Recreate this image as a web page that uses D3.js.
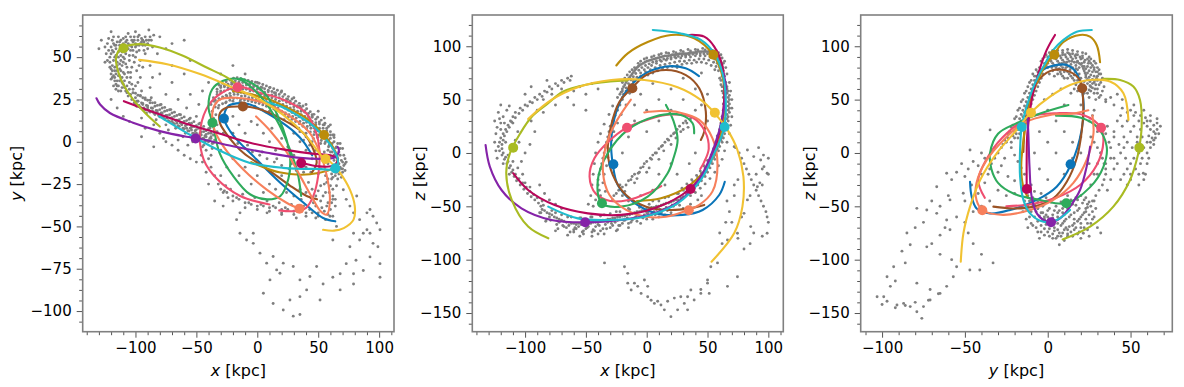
<!DOCTYPE html>
<html>
<head>
<meta charset="utf-8">
<script src="https://cdn.jsdelivr.net/npm/d3@7"></script>
<style>
  body { margin: 0; background: #fff; }
</style>
</head>
<body>
<script>
// ---- orbit styling order: blue, brown, gold, pink, green, coral, crimson, purple, cyan, yellowgreen, yellow
const orbitNames = ["blue", "brown", "gold", "pink", "green", "coral", "crimson", "purple", "cyan", "yellowgreen", "yellow"];
const orbitColors = ["#0a74b8", "#9a5325", "#bb8c0a", "#ef4f70", "#2fab5c", "#f7805c", "#b9075a", "#8523a8", "#20bccd", "#a9bb22", "#f1c232"];

// present-day positions (x, y, z) in kpc
const orbitNow = [
  [-27.4, 13.8, -10.5], [-11.8, 20.8, 60.6], [54.8, 4, 92], [-16.2, 32.2, 23.7],
  [-36.8, 11.2, -47.2], [34.6, -39.5, -53.7], [36, -12.6, -33.8], [-50.6, 2, -65],
  [64, -15.7, 24.4], [-109.8, 55.3, 5], [56, -10.1, 37.8]
];

// orbit tracks, x-y plane
const orbitsXY = [
  [45,-8, 38,0, 30,6, 21,11, 8,17, -6,22, -17,22.7, -24,21, -27.4,14, -22,6, -17,1.4, -0.5,-10.5, 18.6,-24, 38,-36, 54,-45, 64,-47],
  [49,-34, 40.5,-32, 27,-26, 8,-16, -11.5,-6.5, -24,3.4, -30.6,11, -30.6,17, -25,20.2, -11.5,20.8, 0,19.6, 18.6,14, 38,5, 46,-4.5, 48.7,-12.5, 45,-18],
  [-20,30, -5,28, 10,25, 25,20, 40,14, 55,4, 62,-3, 66,-10, 62,-15.5, 50,-18.5, 35,-19.5, 18,-18, 5,-15, -5,-12],
  [10,-37, -14,-32, -33,-22, -44,-10.5, -47,5, -42,19, -33,27, -16,32.4, 2,29, 21,25, 40,17, 48,6, 51,-5, 50,-20, 46,-32, 40,-39, 30,-41, 18,-40.5],
  [36,-32, 33,-18, 27,-5, 18,10, 8,22, -3,31, -15,37, -28,36, -37,31, -40,20, -36.7,11.3, -31,-6.5, -20,-20, -6,-31, 8,-34, 19,-32, 25.5,-22, 27,-10, 24,1.4, 17,15, 8,27, -3,34, -14,37.5],
  [-1,15, 10,7, 24,-6, 35,-20, 45,-33, 52,-41, 57,-43, 59.6,-34, 57,-20, 51.5,-6.5, 43,5.3, 27,15, 5,23, -17,26, -30.6,25, -36,20, -36,9, -28,-2.6, -11.5,-16.4, 7.7,-28.3, 24,-36, 35,-39.7],
  [-109.5,24, -88,18.2, -61,11.3, -33,5.3, -6,-0.6, 21,-4.5, 45,-7, 60,-8, 66,-10, 63,-14, 50,-14.5, 37,-12.5],
  [-132,25.7, -129,22, -121,17, -102,11.3, -80,6.3, -58,3, -50.4,2.2, -20,-2.6, 8,-6.5, 35,-9.5, 55,-10, 64,-9, 67,-5.5, 66,-3],
  [-80.5,15, -58,5.3, -33,-4.5, -6,-12.5, 21,-15.4, 49,-16, 64.3,-15.8, 66,-10, 62,-4, 54,3.4, 43,11, 32,16, 19,21, 5,24],
  [-80,9, -92,17, -102,25, -110,34, -114,41, -116,49, -113,54.5, -107,56.7, -96,57.7, -80,55.7, -61,50.8, -42,44, -25,38, -16,33.5],
  [-97,48.4, -74,45.8, -47,40, -20,32, 2,25, 21,16, 40,3.5, 53,-8.5, 56.5,-10, 63,-14, 68,-18.4, 76,-28.3, 80,-38, 79,-46, 71,-51, 63,-52.5, 54,-52]
];

// orbit tracks, x-z plane
const orbitsXZ = [
  [43,72, 32,79.4, 15.8,81, -3.3,73, -17,57.5, -25,38.7, -29.2,10.6, -27.9,-10.5, -23.8,-30, -11.5,-45.6, 7.7,-56.6, 29.5,-58, 46,-53.4, 59.6,-39.4, 64.2,-27],
  [44.5,12.2, 47.3,20, 48.6,38.7, 43.2,60.6, 32.2,73, 15.8,77.8, -0.5,73, -12.5,60.6, -22.4,48, -29.2,26, -32,1.2, -27.9,-20.6, -17,-39.4, -0.5,-50.3, 18.6,-53.4, 35,-51.9, 47.3,-48.7],
  [-25,82, -15.6,93.4, 0.8,104, 20,110.6, 39,107.5, 54.6,92, 62.3,71.6, 63.7,40.3, 59.6,12.2, 50,-12.8, 33.6,-31.6, 11.7,-42.5, -8,-45],
  [12,-31, 0,-38, -15,-44, -30,-45, -42,-38, -47,-22, -43,-5, -32,10, -16.4,23.7, 0,31, 19,36, 38,33, 48,20, 51,4, 47,-9, 44,-15],
  [15.8,45, 22,30, 25.4,12.2, 22,-5, 17.2,-19, 0.8,-41, -21,-50.3, -36.9,-47.2, -40.2,-25.3, -32,-0.3, -15.6,21.6, 6.3,34, 28.1,35.6, 37.7,27.8, 39,18.4],
  [-13,50, -25,29.4, -33.3,7.5, -36,-17.5, -30.6,-39.4, -16.9,-53.4, -0.5,-59.7, 15.8,-59.7, 34.2,-53.4, 43.2,-48.7, 54.1,-36, 58.2,-11.2, 54.1,13.7, 43.2,31, 26.8,38, 10.4,39.4, -2,38],
  [-109.8,-19, -97.5,-34.7, -75.7,-48.8, -48.4,-56.6, -21,-58, 6.3,-51.9, 35.5,-33.7, 50,-12.8, 59.6,18.4, 63.7,49.7, 62.3,81, 55.5,99.7, 47.3,109, 35,110.6],
  [-132.5,7.5, -129,-12.8, -119.4,-34.7, -103,-51.9, -78.4,-62.8, -51.1,-65, -21,-62.8, 6.3,-56.6, 28.1,-44, 44.5,-22, 55.5,5.9, 62.3,34, 65,62, 63,75],
  [-81,-50.3, -56.6,-61.3, -29.2,-62.8, -1.9,-59.7, 25.4,-47.2, 44.5,-25.3, 56.8,2.8, 63.7,24, 65,49.7, 62.3,74.7, 55.5,93.4, 44.5,106, 28.1,112, 5,115.3],
  [-80.9,-80, -97.5,-69, -111,-44, -115.5,-19, -112.5,-0.3, -104,18.4, -94.5,34, -81,46.6, -69,57.4, -50,64, -30,67, -16,68],
  [-97.5,31.9, -78.4,49.7, -56.6,61.6, -29.2,68.4, -1.9,68.4, 25.4,61.6, 44.5,49.7, 55.5,37.8, 66.4,21.6, 74.6,2.8, 79.5,-22, 78.7,-50.3, 71.9,-75.3, 53.3,-101.9]
];

// orbit tracks, y-z plane
const orbitsYZ = [
  [-4,77, 1.4,81, 11.5,82.5, 17.5,74.7, 21.5,50, 20.5,21.6, 14.1,-10.6, 5.4,-31.6, -6.6,-44, -22.7,-53.4, -34.8,-56.6, -42.9,-52, -45.9,-41, -46.9,-27],
  [-14.7,1, -13.7,26, -10.7,51, -4.6,70, 3.4,77.8, 13.5,76, 19.5,68, 20.7,60.6, 21.5,42, 20.5,20, 17.5,-5, 11.5,-27, 3.4,-42.5, -8.6,-50.3, -20.7,-52, -32.8,-50.3],
  [31.6,85, 29.6,101, 25.5,109, 19.5,110.6, 9.5,104, 3.8,92.5, -2.6,79, -8.6,57.5, -12.7,32.5, -15,7.5, -16,-12, -15,-30, -12,-42],
  [-38,-42, -41.9,-25.3, -34.8,-0.3, -24.7,18.4, -10.7,34, 5.4,37.2, 21.5,35.6, 32,23.7, 33.6,10.6, 29.6,-11.2, 19.5,-30, 5,-42, -10,-48, -25,-50],
  [12.5,45, -4.6,37, -18.7,28, -30,18, -34.8,0, -34,-15, -30,-28, -20.7,-38, -4.6,-44, 11,-47.2, 25.6,-32, 33.6,-13, 35.6,6, 30,24, 20,33, 5,35],
  [24.5,40, 15.5,37, 1.4,35.6, -14.7,28, -26.8,12, -36.8,-6.6, -43,-28, -43,-44, -39.2,-53.7, -27,-58, -10.7,-53.4, 3.4,-44, 15.5,-28, 23.5,-6.6, 27.6,18, 27,35],
  [4.4,110.6, -0.6,96.6, -5.6,74.7, -9.7,49.7, -12.3,18.4, -12.7,-6.6, -12.7,-33.7],
  [-12.3,37.2, -11.7,18.4, -11,-12.8, -9.7,-41, -6.6,-56.6, -2.6,-62.8, 1.8,-65, 7.4,-61.3, 13.5,-50.3, 19.5,-34.7, 23.5,-12.8, 25.6,5.9],
  [26.6,115.3, 17.5,113.7, 9.5,106, 3.4,96.6, -2.6,81, -8.6,62, -12.7,43.4, -15.7,24.7, -16.7,2.8, -16.7,-22, -14.7,-44, -10.7,-56.6, -2.6,-64.4, 5.4,-62.8, 13.5,-53.4],
  [9,-81, 25.6,-69, 39.6,-50.3, 49.7,-25.3, 54.7,-0.3, 55.3,5, 56.7,24.7, 55.7,49.7, 51.7,62.2, 43.7,68.4, 33.6,69.4],
  [-52.5,-101.9, -50.9,-75.3, -46.9,-50.3, -40.8,-25.3, -30.8,-0.3, -18.7,21.6, -10.3,37.8, 1.4,52.8, 13.5,63.7, 25.6,68.4, 37.6,66.9, 45.7,55.9, 48.7,31]
];

// stream particles, x-y plane
const streamXY = [
  // upper-left clump
  -120,52, -118,48, -117,44, -116,40, -115,36, -119,45, -121,50, -114,50, -113,46, -112,42, -111,38, -110,34, -108,30, -106,27,
  -116,55, -113,57, -110,58, -106,58, -102,59, -98,60, -95,61, -92,62, -100,56, -104,54, -108,52, -111,53, -105,48, -107,44,
  -109,40, -103,44, -100,50, -97,54, -94,57, -90,58, -87,60, -85,63, -92,52, -96,48, -123,58, -118,62, -106,64, -100,65,
  -89,66, -80,62, -75,55, -70,58, -82,52, -125,47, -114,33, -112,30, -104,38, -99,42, -120,40, -117,36, -103,34, -98,35,
  -88,45, -86,38, -118,53, -115,47, -113,43, -119,42, -116,51, -110,47, -108,55, -104,57, -96,58, -93,59, -109,36, -107,33,
  -111,45, -114,39, -117,57, -112,60, -101,62, -97,63, -130,55, -128,60, -120,65,
  -122,54, -120,56, -118,58, -115,59, -112,55, -109,56, -106,55, -103,56, -100,58, -97,57, -94,60, -91,60, -88,62, -86,56,
  -90,55, -93,54, -99,53, -102,51, -105,51, -109,49, -112,48, -115,45, -117,42, -119,38, -118,33, -116,31, -113,36, -110,41,
  -107,38, -105,35, -102,31, -100,33, -96,38, -94,44, -97,45, -101,47, -121,44, -123,48, -124,52, -125,56, -122,61, -114,62,
  -108,62, -103,60,
  -121,47, -120,43, -118,39, -116,34, -114,30, -119,54, -117,50, -115,42, -113,39, -111,35, -109,32, -107,29, -105,31,
  -104,41, -106,41, -108,46, -110,50, -112,51, -114,53, -116,57, -119,60, -113,59, -110,61, -107,60, -104,62, -101,60,
  -98,62, -95,59, -92,57, -89,60, -99,57, -102,54, -105,57, -108,59, -111,56, -120,37, -117,38, -115,33, -111,32,
  // band towards the centre
  -104,28, -100,26, -98,24, -96,27, -94,22, -92,25, -90,20, -88,23, -86,18, -84,21, -82,17, -80,19, -78,15, -76,18, -74,14,
  -72,16, -70,12, -68,15, -66,11, -64,13, -62,10, -60,12, -58,8, -56,11, -54,7, -52,9, -50,5, -48,8, -46,4, -44,6, -42,3,
  -40,5, -38,2, -36,4, -99,21, -91,17, -83,13, -75,10, -67,8, -59,5, -51,2, -43,0, -95,30, -87,26, -79,22, -71,19, -63,16,
  -55,14, -47,11, -39,8, -61,3, -53,0, -45,-3, -37,-4, -73,7, -85,10, -95,14, -57,-2, -65,1, -77,2,
  -102,29, -98,27.5, -94,26, -90,24.5, -86,23, -82,21.5, -78,20, -74,18.5, -70,17, -66,15.5, -62,14, -58,12.5, -54,11,
  -50,9.5, -46,8, -42,6.5, -38,5, -101,23, -97,21.5, -93,20, -89,18.5, -85,17, -81,15.5, -77,14, -73,12.5, -69,11,
  -65,9.5, -61,8, -57,6.5, -53,5, -49,3.5, -45,2, -41,0.5, -37,-1,
  -103,25, -99,24, -95,23, -91,21.5, -87,20, -83,18.5, -79,17, -75,15.5, -71,14, -67,12.5, -63,11, -59,9.5, -55,8,
  -51,6.5, -47,5, -43,3.5, -39,2, -35,1,
  -100,21.7, -96,20.3, -92,18.9, -88,17.5, -84,16.1, -80,14.7, -76,13.3, -72,11.9, -68,10.5, -64,9.1, -60,7.7, -56,6.3,
  -52,4.9, -48,3.5, -44,2.1, -40,0.7, -36,-0.7, -98,24, -94,22.6, -90,21.2, -86,19.8, -82,18.4, -78,17, -74,15.6,
  -70,14.2, -66,12.8, -62,11.4, -58,10, -54,8.6, -50,7.2, -46,5.8, -42,4.4, -38,3, -100,28.7, -96,27.3, -92,25.9,
  -88,24.5, -84,23.1, -80,21.7, -76,20.3, -72,18.9, -68,17.5, -64,16.1, -60,14.7, -56,13.3, -52,11.9, -48,10.5, -44,9.1,
  -40,7.7,
  -115,20, -105,12, -92,8, -80,5, -70,-2, -60,-8, -50,-12, -120,25, -110,15, -95,3, -85,-3, -75,0, -65,-5, -55,-10,
  -70,35, -60,40, -55,28, -48,22, -50,15, -60,60, -55,48, -70,45, -80,40, -75,28, -88,32, -65,25, -58,20,
  // upper side of the ring
  -36,26, -33,28, -30,29, -27,30, -24,31, -21,31, -18,32, -15,32, -12,31, -9,31, -6,30, -3,30, 0,29, 3,28, 6,27, 9,27,
  12,26, 15,25, 18,24, 21,22, 24,21, 27,20, 30,19, 33,18, 36,16, 39,15, 42,13, 45,12, 48,10, 51,8, 54,6, 57,4, 60,2, 63,0,
  65,-3, 67,-6, -34,23, -31,25, -28,26, -25,27, -22,27, -19,28, -16,28, -13,27, -10,27, -7,26, -4,26, -1,25, 2,24, 5,23,
  8,23, 11,22, 14,21, 17,20, 20,18, 23,17, 26,16, 29,15, 32,14, 35,12, 38,11, 41,9, 44,8, 47,6, 50,4, 53,3, 56,0, 59,-2,
  62,-4, 64,-7, 66,-10, -32,20, -26,23, -20,24, -14,24, -8,22, -2,21, 4,19, 10,18, 16,16, 22,13, 28,11, 34,8, 40,5, 46,2,
  52,-1, 58,-5, 63,-11, 67,-13, -30,33, -20,35, -8,34, 4,32, 14,29, 25,25, 35,21, 45,16, 55,10, 62,4,
  -34.5,24.5, -31.5,25.5, -28.5,26.5, -25.5,27.5, -22.5,28.5, -19.5,29.5, -16.5,29.8, -13.5,29.2, -10.5,28.7, -7.5,28.2,
  -4.5,27.7, -1.5,27.2, 1.5,26.6, 4.5,25.8, 7.5,25, 10.5,24.2, 13.5,23.3, 16.5,22.4, 19.5,21.3, 22.5,20, 25.5,18.7,
  28.5,17.3, 31.5,16, 34.5,14.7, 37.5,13.2, 40.5,11.5, 43.5,9.8, 46.5,8.2, 49.5,6.5, 52.5,4.8, 55.5,3, 58.5,1, 61.5,-1,
  64.5,-3.5, -34.5,20.5, -31.5,21.5, -28.5,22.5, -25.5,23.5, -22.5,24.5, -19.5,25.5, -16.5,25.8, -13.5,25.2, -10.5,24.7,
  -7.5,24.2, -4.5,23.7, -1.5,23.2, 1.5,22.6, 4.5,21.8, 7.5,21, 10.5,20.2, 13.5,19.3, 16.5,18.4, 19.5,17.3, 22.5,16,
  25.5,14.7, 28.5,13.3, 31.5,12, 34.5,10.7, 37.5,9.2, 40.5,7.5, 43.5,5.8, 46.5,4.2, 49.5,2.5, 52.5,0.8, 55.5,-1, 58.5,-3,
  61.5,-6, 64.5,-9, -33,29.5, -27,32.5, -21,34, -15,34.5, -9,33.5, -3,32.5, 3,30.5, 9,29.5, 15,27.5, 21,24.5, 27,22.5,
  33,20.5, 39,17.5, 45,14.5, 51,10.5, 57,6.5, 63,2.5, 35,6, 40,3, 45,0, 50,-3, 55,-6, 60,-9, 38,1, 43,-2, 48,-5, 53,-8,
  58,-11, 63,-14, 65,-18, 61,-22, 57,-24, 66,-22, -37,18, -36,14, -34,16, -35,10, -33,6, -38,22, -36,24,
  -33,31, -30,32, -27,33, -24,34, -21,35, -18,36, -15,35.5, -12,35, -9,34.5, -6,34, -3,33.5, 0,33, 3,32.2, 6,31.3, 9,30.5,
  12,29.7, 15,28.8, 18,28, 21,26.7, 24,25.3, 27,24, 30,22.7, 33,21.3, 36,20, 39,18.3, 42,16.7, 45,15, 48,13.3, 51,11.7,
  54,10, 57,8, 60,6, 63,4,
  -31.5,33.5, -28.5,34.5, -25.5,35.5, -22.5,36.5, -19.5,37.5, -16.5,37.8, -13.5,37.2, -10.5,36.7, -7.5,36.2, -4.5,35.7,
  -1.5,35.2, 1.5,34.6, 4.5,33.8, 7.5,33, 10.5,32.1, 13.5,31.3, 16.5,30.4, 19.5,29.3, 22.5,28, 25.5,26.7, 28.5,25.3,
  31.5,24, 34.5,22.7, 37.5,21.1, 40.5,19.5, 43.5,17.8, 46.5,16.2, 49.5,14.5, 52.5,12.8, 55.5,11, 58.5,9,
  -30,30, -24,32, -18,34, -12,33, -6,32, 0,31, 6,29.3, 12,27.7, 18,26, 24,23.3, 30,20.7, 36,18, 42,14.7, 48,11.3, 54,8, 60,4,
  // right end
  68,-8, 70,-12, 69,-16, 67,-19, 64,-20, 61,-19, 70,-18, 71,-14, 72,-10, 66,-16, 62,-15, 58,-13, 69,-21, 70,-4, 68,-1,
  66,-13, 68,-15, 70,-16, 72,-13, 71,-8, 69,-11, 67,-17, 64,-18, 62,-21, 72,-17, 73,-12, 68,-4, 66,-1, 63,-8, 60,-6,
  // lower side of the ring
  56,-20, 50,-19, 44,-18, 38,-18, 32,-17, 26,-16, 20,-14, 14,-12, 8,-10, 2,-8, -4,-6, -10,-4, -16,-1, -22,2, -28,5, -33,10,
  52,-16, 40,-15, 28,-13, 16,-10, 4,-6, -8,-2, -20,5, -30,14,
  // lower band
  -30,-28, -25,-30, -20,-32, -15,-34, -10,-36, -5,-37, 0,-38, 5,-38, 10,-39, 15,-39, 20,-40, 25,-40, 30,-41, 35,-41, 40,-42,
  45,-42, 50,-42, 55,-41, 60,-40, -22,-28, -12,-31, -2,-33, 8,-35, 18,-36, 28,-37, 38,-38, 48,-38, 58,-36, 42,-24, 45,-28,
  48,-32, 52,-35, 56,-30, 60,-26, 62,-32, 64,-38, 58,-22, 52,-26, 44,-33, 50,-29, 40,-30, 36,-34, 30,-32, 24,-30, 62,-44,
  56,-46, 48,-45, 32,-45, 20,-43, 8,-42,
  -27,-29, -17,-33, -7,-36, 3,-37, 13,-38, 23,-39, 33,-39, 43,-40, 53,-39, 57,-38, 61,-36, -20,-35, -10,-39, 0,-40, 10,-41,
  20,-42, 30,-43, 40,-44, 50,-44, 58,-43, 46,-36, 54,-32, 62,-28, 59,-30, 64,-34, 55,-25,
  // interior and left of ring
  0,10, 5,5, 10,0, 15,-5, 20,2, 25,-3, 30,5, 35,0, 12,8, -5,12, -10,5, -15,10, -20,15, -25,12, 40,-5, 45,-10, 30,-8,
  20,-20, 10,-25, 0,-20, -10,-15, -20,-10, 35,-28, 25,-25, 15,-28, 5,-30, -5,-25, -15,-20, -25,-15, -30,-5, -38,-8,
  -42,-18, -40,-25, -35,-35, -28,-38, -45,-12, -40,0, -42,-5, -40,-10, -38,-15, -35,-20, -32,-25, -28,-30, -24,-33,
  -44,-2, -46,-8, -30,-20, -26,-26,
  -30,40, -40,35, -45,30, -20,45, -10,40, 0,35, 10,32, 20,30, 30,26, 40,22, 50,18, 55,14, 60,10,
  // trailing debris
  65,-26, 73,-34, 79,-42, 84,-46, 90,-42, 92.5,-40, 95,-44, 98,-48, 100.7,-52, 99,-62, 100.7,-72, 100.7,-80, 92.5,-68,
  87,-76, 79,-84, 68,-87.5, 62,-80, 54,-84, 51.5,-93.5, 40.5,-87.5, 35,-81.6, 29.5,-73.7, 21.3,-71.7, 15.9,-75.7,
  10.4,-81.6, 5,-89.5, 13,-95.5, 21.3,-99.4, 29.5,-103, 35,-102, 26.8,-93.5, 35,-91.5, 43.2,-79.6, 48.7,-73.7,
  -14.2,-54, -8.8,-58, -3.3,-60, 2.2,-65.8, 7.7,-71.7, 13,-67.8, 18.6,-77.7, -3.3,-54, -17,-46, -14.2,-42,
  70.6,-28.3, 76,-38, 81.6,-32, 79,-54, 84,-58, 76,-62, 87,-54, 92.5,-54, 95,-60, 73,-72, 81,-70, 68,-78, 79,-78,
  90,-52, 62,-34, 59.7,-44, 65,-50, 62,-58
];

// stream particles, x-z plane
const streamXZ = [
  // upper arc
  -22,55, -20,60, -18,64, -16,68, -14,71, -12,74, -10,77, -8,80, -6,82, -3,84, 0,86, 3,87, 6,88, 9,89, 12,90, 15,91, 18,91,
  21,92, 24,92, 27,93, 30,93, 33,93, 36,94, 39,94, 42,95, 45,95, 48,95, 51,95, 54,94, 57,92, 59,89, 61,85, 62,81, 63,77,
  -20,52, -17,58, -14,63, -11,67, -8,71, -5,75, -2,78, 1,80, 4,82, 8,84, 12,86, 16,87, 20,88, 24,89, 28,89, 32,90, 36,90,
  40,91, 44,91, 48,91, 52,90, 56,88, 58,84, 60,80, -24,60, -20,66, -16,73, -12,78, -7,84, -2,88, 4,90, 10,92, 16,94, 22,95,
  28,96, 34,97, 40,97, 46,98, 52,97, 57,96, 61,92, 64,86, 65,80,
  -21,57, -19,62, -17,66, -15,69.5, -13,72.5, -11,75.5, -9,78.5, -7,81, -4.5,83, -1.5,85, 1.5,86.5, 4.5,87.5, 7.5,88.5,
  10.5,89.5, 13.5,90.5, 16.5,91, 19.5,91.5, 22.5,92, 25.5,92.5, 28.5,93, 31.5,93, 34.5,93.5, 37.5,94, 40.5,94.5, 43.5,95,
  46.5,95, 49.5,95, 52.5,94.5, 55.5,93, 58,90.5, 60,87, 61.5,83, 62.5,79,
  -19,55, -17,61, -15,65, -13,68.5, -11,71.5, -9,74.5, -6.5,77.5, -4,80, -1,82, 2,83.5, 5,85, 8,86, 11,87, 14,88, 17,88.5,
  20,89.5, 23,90, 26,90.5, 29,91, 32,91.5, 35,92, 38,92.5, 41,93, 44,93, 47,93, 50,93, 53,92, 56,90.5, 58.5,87, 60,83.5,
  61,79, -18,70, -14,76, -10,80, -5,86, 0,89, 6,91, 12,93, 18,93.5, 24,94, 30,95, 36,95.5, 42,96.5, 48,96.5, 54,96, 59,94,
  62,89, 63,84,
  -5,72, -1,76, 3,78, 7,80, 11,82, 15,83, 19,84, 23,85, 27,86, 31,86, 35,87, 39,87, 43,88, 47,88, 51,87, 55,85, 57,81, 59,77,
  1,73, 5,75, 9,77, 13,79, 17,80, 21,81, 25,82, 29,83, 33,84, 37,84, 41,85, 45,85, 49,84, 53,82, 56,78,
  // right side
  62,72, 64,68, 65,64, 66,60, 66,56, 67,52, 67,48, 67,44, 67,40, 66,36, 66,32, 65,28, 64,24, 63,20, 62,16, 61,12, 59,8,
  58,4, 56,0, 55,-4, 53,-8, 51,-12, 49,-16, 47,-20, 44,-24, 41,-28, 38,-31, 35,-34, 32,-37, 60,70, 61,64, 62,58, 63,52,
  63,46, 63,40, 62,34, 61,28, 60,22, 58,16, 57,10, 55,4, 53,-2, 50,-7, 47,-12, 44,-17, 41,-21, 37,-25, 33,-29, 29,-33,
  66,74, 68,66, 69,58, 70,50, 70,42, 70,34, 69,26, 68,18, 66,10, 64,2, 62,-6, 59,-12, 56,-18, 52,-24, 48,-29, 44,-33,
  40,-37, 36,-40,
  64,72, 65,66, 66,62, 67,58, 68,54, 68,50, 68,46, 68,42, 68,38, 67,34, 67,30, 66,26, 65,22, 64,18, 63,14, 62,10, 60,6,
  59,2, 57,-2, 56,-6, 54,-10, 52,-14, 50,-18, 48,-22, 45,-26, 42,-30, 39,-33, 36,-36, 33,-39, 30,-41,
  61,68, 62,62, 63,56, 64,50, 64,44, 64,38, 64,32, 63,26, 62,20, 61,14, 59,10, 58,6, 56,2, 54,-4, 51,-9, 48,-14, 45,-19,
  42,-23, 38,-27, 34,-32, 30,-35,
  // lower band
  28,-42, 24,-44, 20,-46, 16,-47, 12,-49, 8,-50, 4,-51, 0,-53, -4,-54, -8,-55, -12,-57, -16,-58, -20,-59, -24,-60, -28,-61,
  -32,-62, -36,-63, -40,-64, -44,-65, -48,-65, -52,-66, -56,-66, -60,-66, -64,-65, -68,-64, -72,-62, -76,-60, -80,-57,
  -84,-54, -87,-50, 26,-38, 18,-41, 10,-45, 2,-48, -6,-51, -14,-53, -22,-55, -30,-57, -38,-59, -46,-60, -54,-61, -62,-60,
  -70,-58, -78,-54, 22,-50, 14,-53, 6,-55, -2,-58, -10,-61, -18,-63, -26,-65, -34,-67, -42,-69, -50,-71, -58,-71, -66,-70,
  -74,-67, -82,-62, -88,-56, -45,-74, -30,-70, -15,-66, 0,-62, 10,-60, 20,-56, 30,-52, 36,-48, 42,-44, 45,-40,
  -38,-73, -22,-68, -52,-76, -60,-74, -8,-64,
  26,-44, 22,-45, 18,-47, 14,-48, 10,-50, 6,-51, 2,-52, -2,-54, -6,-55, -10,-56, -14,-58, -18,-59, -22,-60, -26,-61,
  -30,-62, -34,-63, -38,-64, -42,-65, -46,-66, -50,-67, -54,-67, -58,-67, -62,-66, -66,-65, -70,-63, -74,-61, -78,-58,
  -82,-56, 24,-48, 16,-51, 8,-53, 0,-56, -8,-58, -16,-61, -24,-63, -32,-65, -40,-67, -48,-69, -56,-69, -64,-68, -72,-65,
  -80,-60, -86,-53, -36,-71, -44,-72, -28,-68, -20,-66, -12,-63, -4,-60, 4,-58, 12,-56, -52,-73, -60,-72, -68,-69,
  -40,-76, -24,-72,
  27,-49, 17,-54, 7,-58, -3,-61, -13,-65, -23,-68, -33,-71, -43,-73, -53,-74, -63,-74, -73,-71, -83,-64,
  25,-38, 15,-42, 5,-45, -5,-49, -15,-52, -25,-55, -35,-58, -45,-60, -55,-61, -65,-60, -75,-56, -85,-49,
  21,-49, 11,-53, 1,-56, -9,-60, -19,-63, -29,-66, -39,-68, -49,-70, -59,-70, -69,-68, -79,-63, -87,-56,
  15,-58, 5,-62, -5,-66, -15,-70, -25,-73, -35,-76, -45,-78, -55,-78, -65,-77, -75,-73,
  // left band
  -18,55, -20,50, -22,45, -24,40, -26,35, -28,30, -30,25, -31,20, -32,15, -33,10, -34,5, -35,0, -36,-5, -37,-10, -38,-15,
  -39,-20, -40,-25, -40,-30, -39,-35, -38,-40, -36,-45, -14,56, -17,45, -21,36, -24,28, -27,20, -29,12, -30,4, -32,-4,
  -33,-12, -35,-20, -36,-28, -34,-36, -45,-30, -44,-20, -43,-10, -42,0, -40,10, -38,18, -35,27, -31,36, -28,44, -24,52,
  -20,58, -46,-40, -48,-48, -44,-50, -42,-44,
  // inner diagonal and interior
  -25,-38, -20,-32, -15,-26, -10,-20, -5,-14, 0,-8, 5,-2, 10,4, 15,10, 20,16, 25,22, 30,28, -22,-30, -12,-22, -2,-10, 8,0,
  18,12, 28,20, -18,-36, -8,-24, 2,-14, 12,6, 22,18, 32,30, 14,2, 4,-6, -6,-18, 24,14, 34,24, -28,-44,
  -27,-40, -23,-35, -17,-30, -13,-25, -7,-19, -3,-13, 3,-5, 7,0, 13,7, 17,13, 23,19, 27,25, 33,28, -20,-40, -10,-28,
  0,-18, 10,-6, 20,8, 30,22, 36,32,
  0,20, 10,30, -10,30, 20,40, 30,50, 40,60, 45,45, 50,30, 40,0, 35,-10, 25,-20, 15,-30, 5,-35, -5,-40, -15,-45, 0,40,
  10,50, 20,60, -5,55, 30,70, 45,75, 50,55, 40,40, 20,-10, 10,-20, -20,0, -15,15, -10,45, 5,65, 25,80,
  // left arc
  -62,72, -65,70, -70,68, -75,65, -80,62, -84,58, -88,55, -92,52, -96,48, -100,45, -104,42, -108,38, -110,34, -112,30,
  -114,26, -116,22, -118,18, -120,14, -121,10, -122,6, -121,2, -119,-2, -117,-6, -115,-10, -113,-14, -111,-18, -109,-22,
  -107,-26, -104,-30, -101,-34, -98,-38, -95,-41, -92,-44, -89,-47, -125,30, -122,38, -118,34, -115,40, -113,44, -120,22,
  -124,18, -110,28, -106,20, -108,12, -112,6, -114,-2, -110,-8, -106,-14, -102,-20, -100,-28, -96,-32, -105,10, -100,0,
  -95,30, -90,40, -85,50, -78,55, -70,60, -100,55, -95,62, -82,68, -60,58, -55,62, -50,55, -45,65, -40,60, -65,52, -75,45,
  -85,38, -60,45, -50,40, -92,20, -96,8, -103,-8, -88,-30, -84,-38, -80,-44, -75,-48, -70,-52, -120,45, -125,10, -123,-5,
  -63,68, -68,66, -73,63, -78,60, -82,57, -86,53, -90,50, -94,47, -98,44, -102,40, -105,37, -108,33, -111,29, -113,24,
  -115,20, -117,16, -118,12, -119,8, -119,4, -118,0, -116,-4, -114,-8, -112,-12, -110,-16, -108,-20, -105,-24, -102,-28,
  -99,-32, -96,-36, -93,-39, -90,-42, -86,-45, -120,28, -123,24, -121,32, -117,28, -124,2, -118,-10, -113,-20, -116,10,
  // right debris
  71.9,5.9, 82.8,2.8, 88,-3.4, 93.7,-6.6, 96.4,-12.8, 99,-19, 91,-31.6, 82.8,-44, 80,-56.6, 85.5,-69, 99,-75.3, 74.6,-75.3,
  66.4,-81.6, 73,5, 76,0, 78,-5, 80,-10, 82,-15, 84,-20, 86,-25, 88,-30, 90,-35, 92,-40, 94,-45, 96,-50, 98,-55, 99,-60,
  100,-65, 90,-20, 95,-15, 100,-20, 93,-28, 85,-40, 78,-60, 88,-75, 95,-78, 75,-25, 72,-40, 68,-55, 70,-65, 75,-80,
  85,-85, 72,-30, 66,-45, 92,5, 96,-2, 100,-5, 95,-30, 65,-65, 60,-75, 62,-85, 80,-90,
  // lower loop
  58.2,-103, 52.7,-106.6, 74.6,-116, 66.4,-125, 50,-119, 44.5,-128, -34.7,-103, -18.3,-106.6, -15.6,-112.8, -10.1,-122,
  -4.6,-131.6, 3.6,-138, 11.7,-142.5, 19.9,-153.4, 25.4,-147, 30.9,-141, 33.6,-147, 39,-137.8, 44.5,-131.6, 50,-122,
  0.8,-134.7, 9,-139, 17.2,-139, 22.7,-136, 28,-134.7, 14.5,-147, 6.3,-141, -15.6,-122, -12.8,-128.4, -7.4,-125, 0.8,-125,
  -1.9,-119, 33.6,-134.7, 36.3,-128.4, 51.4,-131.6
];

// stream particles, y-z plane
const streamYZ = [
  // top clump
  0,90, 3,92, 6,93, 9,94, 12,94, 15,93, 18,92, 21,91, 24,88, 26,84, 28,80, 29,76, 30,72, 30,68, 31,64, 30,60,
  2,86, 5,88, 8,89, 11,90, 14,90, 17,89, 20,88, 22,85, 24,81, 25,77, 26,73, 27,69, 27,65, 27,61,
  4,82, 7,84, 10,85, 13,86, 16,85, 19,84, 21,81, 22,77, 23,73, 24,69, 24,65, 23,60, 22,56,
  6,78, 9,80, 12,81, 15,80, 18,78, 19,74, 20,70, 20,66, 19,62, 18,58, -1,82, -3,78, 1,74, 4,72, 8,74, 12,76, 14,72,
  16,68, 17,64, 16,60, 14,56, 28,56, 32,54, 33,58, 34,62, 32,66, 33,70, 31,78, 29,84, 26,88, 23,93, 18,95, 12,97, 6,96,
  1,94, -2,90, -4,86, 10,70, 25,52, 29,50, 35,50,
  1.5,88, 4.5,90, 7.5,91, 10.5,92, 13.5,92, 16.5,91, 19.5,90, 22.5,87, 24.5,84, 26,80, 27,76, 28,72, 28.5,68, 29,64,
  28.5,60, 3,84, 6,86, 9,87, 12,88, 15,88, 18,86, 20,83, 21.5,79, 22.5,75, 23,71, 22,67, 21,63, 20,59, 5,80, 8,82, 11,83,
  14,83, 17,82, 19,80, 7.5,76, 10.5,78, 13.5,78, 16.5,76, 18,72, 18,68, 17,65, 30,56, 31,52, 26,58, 32,74, 30,80, 28,86,
  25,90, 21,94, 15,96, 9,96, 3,96, -1,92, -3,88, 0,84,
  2.5,80, 5.5,82, 8.5,84, 11.5,85, 14.5,86, 17.5,85, 20.5,84, 22,81, 23,79, 24,75, 25,71, 25.5,67, 25.5,63, 25,59, 24,56,
  26,62, 28,66, 29.5,70, 31,74, 30,76, 28,78, 27,82, 25,86, 21,89, 17,92, 13,93, 9,92, 5,91, 2,89, 0,87, -2,84, 0,80,
  3,77, 6,74, 9,72, 12,70, 15,70, 16,73, 13,74, 10,76, 7,79, 11,80, 14,80, 17,79,
  // left strip
  -5,80, -6,76, -7,72, -8,68, -9,64, -10,60, -11,56, -12,52, -13,48, -14,44, -15,40, -16,36, -17,32, -18,28, -19,24,
  -20,20, -21,16, -3,74, -4,70, -5,66, -6,62, -7,58, -8,54, -9,50, -10,46, -11,42, -12,38, -13,34, -14,30, -15,26, -16,22,
  -17,18, -18,14, -9,74, -11,66, -13,58, -15,50, -17,42, -19,34, -21,26, -23,20, -24,14,
  -4,78, -5,74, -6,70, -7,66, -8,62, -9,58, -10,54, -11,50, -12,46, -13,42, -14,38, -15,34, -16,30, -17,26, -18,22,
  -19,18, -20,14, -22,10, -7,78, -8,72, -10,68, -12,62, -14,56, -16,48, -18,40, -20,32, -22,24, -24,18, -26,12, -27,8,
  // spread below the strip
  -25,10, -28,5, -30,0, -32,-5, -34,-10, -35,-15, -36,-20, -22,5, -20,-2, -18,-8, -16,-14, -14,-20, -26,-5, -28,-12,
  -30,-18, -24,-22, -20,-26, -10,-30, -15,-35, -20,-38, -25,-40, -30,-35, -38,-28, -40,-20, -42,-12, -38,-5, -32,5,
  -40,0, -45,-8, -48,-15, -50,-22, -46,-30, -52,-10, -55,-18, -58,-25, -34.8,21.6, -46.9,2.8,
  // ring interior
  0,40, 5,30, 10,20, 15,10, 20,0, 25,-10, 0,10, 5,0, -5,20, -8,0, -5,-15, 0,-25, 10,-20, 15,-5, 20,15, 25,30, 28,40,
  30,20, 32,0, 30,-20, 35,-10, 38,5, 36,25, 40,15, 10,45, 20,45, -2,50, 8,60, 3,55,
  // right side of ring
  26,15, 28,10, 30,5, 32,0, 33,-5, 34,-10, 35,-15, 35,-20, 34,-25, 33,-30, 31,-35, 29,-40, 27,-45, 30,-10, 28,-20, 26,-30,
  38,-5, 40,-15, 38,-25, 36,-35, 37,10, 35,18, 30,25, 27,35,
  // bottom clump
  -12,-40, -10,-44, -8,-48, -6,-52, -4,-56, -2,-60, 0,-64, 2,-68, 4,-70, 6,-72, -12,-50, -10,-55, -8,-60, -6,-64, -4,-68,
  -2,-71, 0,-74, 3,-76, 6,-78, 9,-75, 12,-72, 15,-68, 18,-64, 20,-60, 22,-56, 23,-52, 24,-48, 22,-44, 20,-40, 18,-44,
  15,-48, 12,-52, 9,-56, 6,-60, 3,-58, 0,-54, -3,-50, -6,-46, -9,-42, 10,-64, 13,-60, 16,-56, 19,-52, 14,-44, 8,-46,
  5,-50, 2,-46, -1,-42, -4,-38, 8,-68, 11,-70, 14,-74, 17,-70, 20,-66, 23,-62, 25,-58, 26,-50, -14,-45, -15,-55, -13,-62,
  -10,-66, -7,-70, -4,-74, 1,-78, 5,-80, 12,-78, 18,-76, 22,-70, 26,-66, 28,-60, 4,-64, 7,-54, 10,-58, -2,-62, 16,-62,
  -8,-36, 12,-40, 28,-45, 29,-52, -12,-70, 30,-70, 32,-75, 20,-80, 10,-82, -5,-80, 25,-78, 21.5,-75.3, 7,-86,
  -11,-45, -9,-50, -7,-55, -5,-59, -3,-63, -1,-67, 1,-71, 4,-73, 7,-75, 10,-72, 13,-69, 16,-66, 19,-62, 21,-58, 23,-55,
  24,-51, 25,-46, 21,-47, 17,-49, 13,-50, 9,-52, 6,-56, 3,-61, 0,-60, -3,-56, -6,-52, -8,-44, -2,-48, 4,-54, 11,-62,
  14,-58, 18,-54, 9,-66, 6,-66, 2,-64, -1,-58, 1,-52, 11,-45, 17,-42, 23,-42, 27,-55, 27,-62, 24,-66, 20,-70, 16,-72,
  12,-76, 8,-78, 3,-80, -2,-77, -6,-74, -9,-68, -11,-60, -13,-52, 15,-78, 19,-74, 24,-72,
  // far right
  40,45, 45,42, 48,38, 52,35, 55,30, 58,28, 60,25, 62,22, 64,20, 65,18, 63,14, 60,10, 58,5, 55,0, 52,-5, 50,-10, 48,-15,
  46,-20, 44,-25, 50,20, 54,15, 45,25, 42,30, 56,22, 60,30, 52,45, 58,40, 48,10, 44,0, 42,-10, 46,5, 40,20, 62,5, 57,-5,
  50,-25, 55,-30, 59,-20, 45,50, 38,52, 35,48, 42,55, 62,35, 66,28, 60,-10, 48,-30, 57.7,-19, 64,12, 61,16,
  50,40, 53,38, 56,35, 59,33, 62,30, 64,26, 66,22, 67,18, 65,14, 62,10, 60,0, 56,-10, 53,-15, 50,-20, 47,-5, 51,5, 54,10,
  57,15, 52,25, 48,30, 44,35, 46,15, 43,8, 40,-5, 64,8, 68,25, 66,32, 58,-25, 61,-5, 55,-20,
  // lower-left trail
  -61,-19, -67,-31.6, -51,-37.8, -59,-44, -73,-53.4, -79,-51.9, -67,-56.6, -61,-62.8, -85,-75, -83,-86, -86,-103,
  -93,-106.6, -97,-116, -99,-134.7, -103,-134.7, -97,-139, -91,-142.5, -87,-141, -83,-144, -79,-148.8, -76,-155, -75,-144,
  -71,-137.8, -65,-131.6, -61,-125, -57,-116, -55,-106.6, -47,-109.7, -41,-109.7, -33,-103, -59,-72, -65,-77, -73,-88,
  -79,-122, -71,-128, -35,-45, -40,-50, -45,-55, -42,-38, -50,-45, -60,-40, -65,-50, -70,-45, -75,-65, -80,-70, -88,-92,
  -92,-120, -95,-125, -100,-142, -92,-145, -86,-143, -80,-140, -72,-138, -66,-132, -58,-100, -65,-95, -70,-85, -62,-70,
  -55,-60, -50,-65, -48,-75, -45,-85, -40,-95
];

// axis ticks
const ticksXmajor = [-100, -50, 0, 50, 100];
const ticksYmajorXY = [-100, -75, -50, -25, 0, 25, 50];
const ticksZmajor = [-150, -100, -50, 0, 50, 100];
const ticksYmajorYZ = [-100, -50, 0, 50];

const panels = [
  { left: 82.7, right: 394, xDomain: [-143.3, 112.2], yDomain: [-112.2, 74.9], ix: 0, iy: 1,
    stream: streamXY, paths: orbitsXY, xMajor: ticksXmajor, xMinor: 10, yMajor: ticksYmajorXY, yMinor: 6.25,
    xLabel: "x", yLabel: "y", yLabelX: 17 },
  { left: 472.3, right: 783.3, xDomain: [-143.4, 112.3], yDomain: [-167.5, 129.3], ix: 0, iy: 2,
    stream: streamXZ, paths: orbitsXZ, xMajor: ticksXmajor, xMinor: 10, yMajor: ticksZmajor, yMinor: 10,
    xLabel: "x", yLabel: "z", yLabelX: 420 },
  { left: 860.7, right: 1172.3, xDomain: [-112.9, 75.2], yDomain: [-167.5, 129.3], ix: 1, iy: 2,
    stream: streamYZ, paths: orbitsYZ, xMajor: ticksYmajorYZ, xMinor: 10, yMajor: ticksZmajor, yMinor: 10,
    xLabel: "y", yLabel: "z", yLabelX: 810 }
];

const TOP = 15, BOTTOM = 331.7;
const svg = d3.select("body").append("svg")
  .attr("width", 1184).attr("height", 387)
  .style("font-family", "'DejaVu Sans', sans-serif");

function pairs(a) {
  const out = [];
  for (let i = 0; i < a.length; i += 2) out.push([a[i], a[i + 1]]);
  return out;
}
const fmt = d => d < 0 ? "\u2212" + (-d) : String(d);

function minorTicks(domain, step, major) {
  const start = Math.ceil(domain[0] / step) * step;
  return d3.range(start, domain[1] + 1e-9, step).filter(v => !major.some(m => Math.abs(m - v) < 1e-6));
}

panels.forEach(p => {
  const x = d3.scaleLinear(p.xDomain, [p.left, p.right]);
  const y = d3.scaleLinear(p.yDomain, [BOTTOM, TOP]);
  const g = svg.append("g");

  g.append("g").selectAll("circle")
    .data(pairs(p.stream))
    .join("circle")
    .attr("cx", d => x(d[0]))
    .attr("cy", d => y(d[1]))
    .attr("r", 1.45)
    .attr("fill", "#7f7f7f");

  const line = d3.line()
    .x(d => x(d[0]))
    .y(d => y(d[1]))
    .curve(d3.curveCatmullRom.alpha(0.5));

  p.paths.forEach((path, i) => {
    g.append("path")
      .attr("d", line(pairs(path)))
      .attr("fill", "none")
      .attr("stroke", orbitColors[i])
      .attr("stroke-width", 2.1)
      .attr("stroke-linecap", "round");
  });

  orbitNow.forEach((pos, i) => {
    g.append("circle")
      .attr("cx", x(pos[p.ix]))
      .attr("cy", y(pos[p.iy]))
      .attr("r", 5)
      .attr("fill", orbitColors[i]);
  });

  // axes
  const xMin = minorTicks(p.xDomain, p.xMinor, p.xMajor);
  const yMin = minorTicks(p.yDomain, p.yMinor, p.yMajor);

  const gx = g.append("g").attr("transform", `translate(0,${BOTTOM})`);
  gx.call(d3.axisBottom(x).tickValues(p.xMajor).tickFormat(fmt).tickSize(6).tickPadding(5));
  gx.append("g").call(d3.axisBottom(x).tickValues(xMin).tickFormat("").tickSize(3.5));

  const gy = g.append("g").attr("transform", `translate(${p.left},0)`);
  gy.call(d3.axisLeft(y).tickValues(p.yMajor).tickFormat(fmt).tickSize(6).tickPadding(5));
  gy.append("g").call(d3.axisLeft(y).tickValues(yMin).tickFormat("").tickSize(3.5));

  g.selectAll(".domain").remove();
  g.selectAll(".tick line").attr("stroke", "#555").attr("stroke-width", 1);
  g.selectAll(".tick text").attr("font-size", 15).attr("fill", "#000")
    .attr("font-family", "'DejaVu Sans', sans-serif");

  g.append("rect")
    .attr("x", p.left).attr("y", TOP)
    .attr("width", p.right - p.left).attr("height", BOTTOM - TOP)
    .attr("fill", "none")
    .attr("stroke", "#808080")
    .attr("stroke-width", 1.6);

  const xl = g.append("text")
    .attr("x", (p.left + p.right) / 2).attr("y", 376)
    .attr("text-anchor", "middle").attr("font-size", 16);
  xl.append("tspan").attr("font-style", "italic").text(p.xLabel);
  xl.append("tspan").text(" [kpc]");

  const yl = g.append("text")
    .attr("transform", `translate(${p.yLabelX + 5},${(TOP + BOTTOM) / 2}) rotate(-90)`)
    .attr("text-anchor", "middle").attr("font-size", 16);
  yl.append("tspan").attr("font-style", "italic").text(p.yLabel);
  yl.append("tspan").text(" [kpc]");
});
</script>
</body>
</html>
